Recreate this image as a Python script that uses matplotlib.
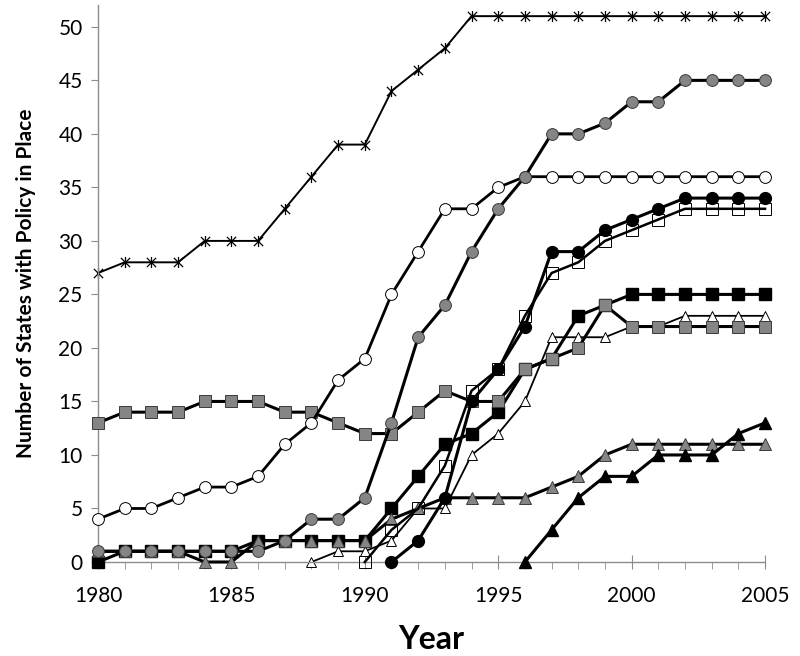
import numpy as np
import matplotlib
matplotlib.use("Agg")
import matplotlib.pyplot as plt
from matplotlib.path import Path

plt.rcParams['font.family'] = ['Lato', 'DejaVu Sans']

years = list(range(1980, 2006))

# series values, one per year (None = not yet in the data)
asterisk = [27, 28, 28, 28, 30, 30, 30, 33, 36, 39, 39, 44, 46, 48, 51, 51,
            51, 51, 51, 51, 51, 51, 51, 51, 51, 51]
open_circle = [4, 5, 5, 6, 7, 7, 8, 11, 13, 17, 19, 25, 29, 33, 33, 35, 36,
               36, 36, 36, 36, 36, 36, 36, 36, 36]
gray_circle = [1, 1, 1, 1, 1, 1, 1, 2, 4, 4, 6, 13, 21, 24, 29, 33, 36, 40,
               40, 41, 43, 43, 45, 45, 45, 45]
gray_square = [13, 14, 14, 14, 15, 15, 15, 14, 14, 13, 12, 12, 14, 16, 15, 15,
               18, 19, 20, 24, 22, 22, 22, 22, 22, 22]
black_square = [0, 1, 1, 1, 1, 1, 2, 2, 2, 2, 2, 5, 8, 11, 12, 14, 18, 19, 23,
                24, 25, 25, 25, 25, 25, 25]
gray_triangle = [1, 1, 1, 1, 0, 0, 2, 2, 2, 2, 2, 4, 5, 6, 6, 6, 6, 7, 8, 10,
                 11, 11, 11, 11, 11, 11]
black_circle = [None] * 11 + [0, 2, 6, 15, 18, 22, 29, 29, 31, 32, 33, 34,
                              34, 34, 34]
open_square = [None] * 10 + [0, 3, 5, 9, 16, 18, 23, 27, 28, 30, 31, 32, 33,
                             33, 33, 33]
open_triangle = [None] * 8 + [0, 1, 1, 2, 5, 5, 10, 12, 15, 21, 21, 21, 22,
                              22, 23, 23, 23, 23]
black_triangle = [None] * 16 + [0, 3, 6, 8, 8, 10, 10, 10, 12, 13]

# Excel-style star: an X with a vertical bar
star = Path([(-1, -1), (1, 1), (-1, 1), (1, -1), (0, -1.2), (0, 1.2)],
            [Path.MOVETO, Path.LINETO, Path.MOVETO, Path.LINETO,
             Path.MOVETO, Path.LINETO])

GRAY = '#858585'
EDGE = '#3a3a3a'


def series(vals):
    x = [y for y, v in zip(years, vals) if v is not None]
    v = [v for v in vals if v is not None]
    return x, v


fig = plt.figure(figsize=(8, 6.56), dpi=100)
ax = fig.add_axes([0.1225, 0.1433, 0.8338, 0.8484])

styles = [
    (asterisk, dict(marker=star, ms=8, mfc='none', mec='black', mew=0.9,
                    lw=1.4), 1),
    (open_triangle, dict(marker='^', ms=6.5, mfc='white', mec='black', mew=0.7,
                         lw=1.3), 2),
    (black_square, dict(marker='s', ms=8, mfc='black', mec='black', lw=2.2), 3),
    (gray_triangle, dict(marker='^', ms=8, mfc=GRAY, mec=EDGE, mew=0.7,
                         lw=2.2), 4),
    (gray_square, dict(marker='s', ms=8.5, mfc=GRAY, mec=EDGE, mew=0.7,
                       lw=2.2), 5),
    (black_circle, dict(marker='o', ms=8.5, mfc='black', mec='black', lw=2.2), 6),
    (open_square, dict(marker='s', ms=8, mfc='none', mec='black', mew=0.7,
                       lw=1.8), 7),
    (open_circle, dict(marker='o', ms=8.5, mfc='white', mec='black', mew=0.7,
                       lw=2.0), 8),
    (gray_circle, dict(marker='o', ms=8.5, mfc=GRAY, mec=EDGE, mew=0.7,
                       lw=2.2), 9),
    (black_triangle, dict(marker='^', ms=8, mfc='black', mec='black',
                          lw=2.2), 10),
]
for vals, kw, z in styles:
    x, v = series(vals)
    ax.plot(x, v, color='black', zorder=z, clip_on=False, **kw)

ax.set_xlim(1980, 2005)
ax.set_ylim(0, 52)
ax.set_xticks(range(1980, 2006, 5))
ax.set_xticks(years, minor=True)
ax.set_yticks(range(0, 51, 5))

for side in ['top', 'right']:
    ax.spines[side].set_visible(False)
for side in ['left', 'bottom']:
    ax.spines[side].set_color('#8c8c8c')
    ax.spines[side].set_linewidth(1.0)

ax.tick_params(axis='x', which='major', direction='inout', length=10,
               color='#8c8c8c', labelsize=15, pad=12)
ax.tick_params(axis='x', which='minor', direction='out', length=5,
               color='#8c8c8c')
ax.tick_params(axis='y', direction='out', length=5, color='#8c8c8c',
               labelsize=15, pad=6)

ax.set_xlabel("Year", fontsize=23, fontweight='bold', labelpad=14)
ax.set_ylabel("Number of States with Policy in Place", fontsize=15,
              fontweight='bold', labelpad=16)

fig.savefig("out.png", dpi=100)
